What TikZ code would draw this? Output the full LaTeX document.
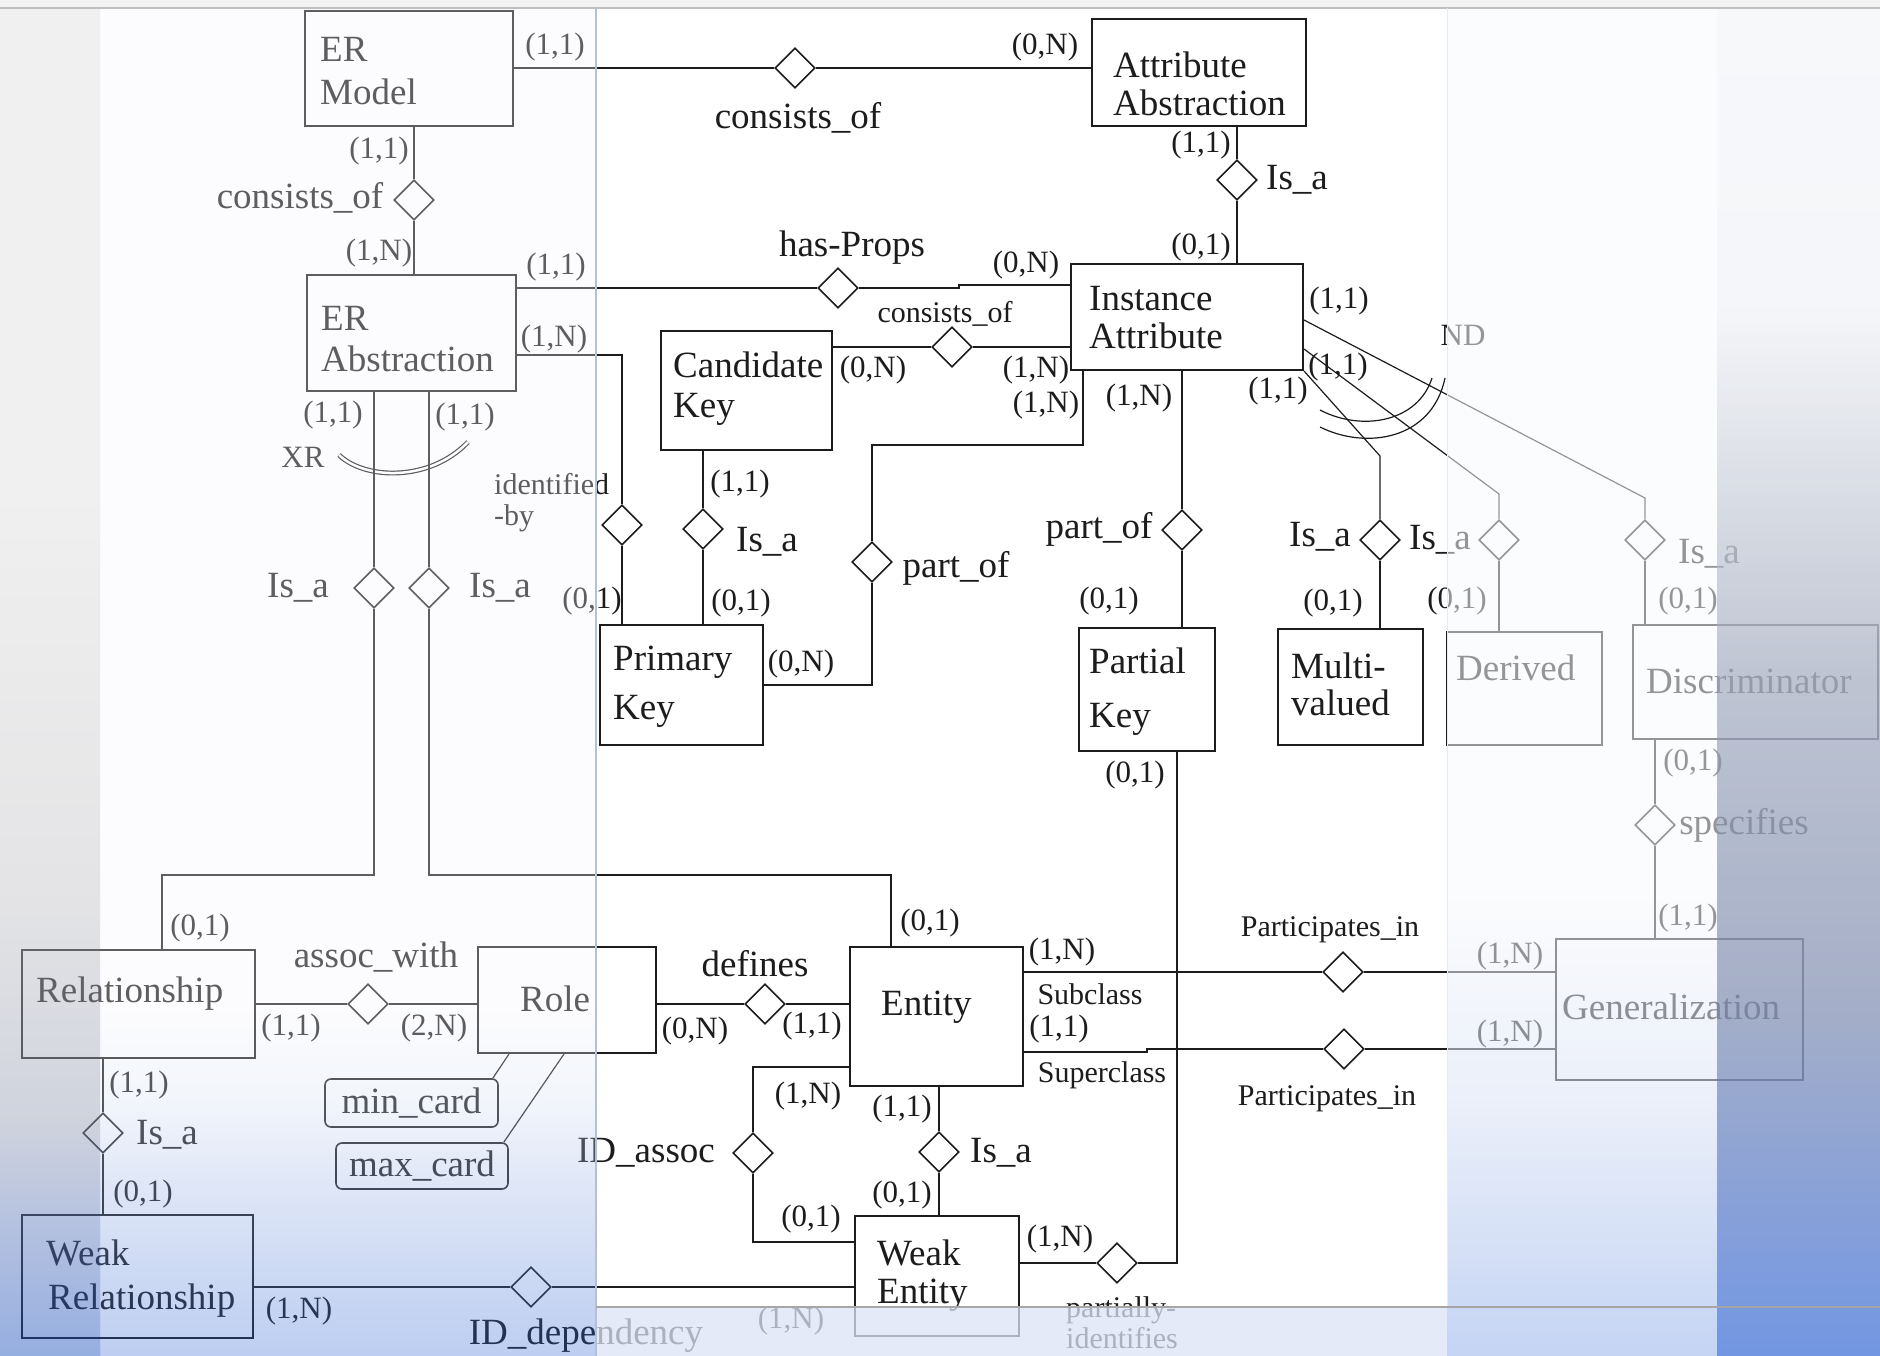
\documentclass[tikz,border=0pt]{standalone}
\usepackage{fontspec}
\setmainfont{Liberation Serif}
\usetikzlibrary{shapes.geometric}
\definecolor{ink}{HTML}{1C1C1C}
\definecolor{band}{RGB}{219,227,246}
\definecolor{rule}{HTML}{B4C0D8}
% slide background tints (0bp..25bp = bottom edge, 75bp..100bp = top edge)
\pgfdeclareverticalshading{panelsh}{100bp}{rgb(0bp)=(0.149,0.373,0.831); rgb(25bp)=(0.149,0.373,0.831); rgb(27.1bp)=(0.282,0.467,0.843); rgb(30.8bp)=(0.55,0.66,0.894); rgb(34.5bp)=(0.843,0.882,0.957); rgb(38.2bp)=(0.973,0.973,0.992); rgb(100bp)=(0.973,0.973,0.992)}
\pgfdeclareverticalshading{stripsh}{100bp}{rgb(0bp)=(0.086,0.302,0.737); rgb(25bp)=(0.086,0.302,0.737); rgb(28.9bp)=(0.302,0.431,0.737); rgb(33.8bp)=(0.588,0.624,0.710); rgb(41.9bp)=(0.765,0.765,0.784); rgb(56.8bp)=(0.871,0.871,0.871); rgb(100bp)=(0.871,0.871,0.871)}
\pgfdeclareverticalshading{midsh}{100bp}{rgb(0bp)=(0.588,0.698,0.922); rgb(25bp)=(0.588,0.698,0.922); rgb(27bp)=(0.643,0.737,0.929); rgb(34.5bp)=(0.859,0.894,0.965); rgb(42bp)=(0.973,0.980,0.992); rgb(100bp)=(0.973,0.980,0.992)}
\pgfdeclareverticalshading{farsh}{100bp}{rgb(0bp)=(0.333,0.502,0.863); rgb(25bp)=(0.333,0.502,0.863); rgb(27bp)=(0.365,0.518,0.851); rgb(38bp)=(0.569,0.616,0.737); rgb(50bp)=(0.690,0.718,0.784); rgb(64bp)=(0.955,0.960,0.972); rgb(100bp)=(0.985,0.988,0.992)}
\begin{document}
\begin{tikzpicture}[x=1pt,y=-1pt,
  entbox/.style={draw=ink, line width=2, inner sep=0},
  cardbox/.style={draw=ink, line width=1.6, inner sep=0, rounded corners=6},
  relship/.style={diamond, draw=ink, line width=1.6, fill=white, minimum width=40, minimum height=40, inner sep=0, aspect=1},
  conn/.style={draw=ink, line width=1.8},
  fine/.style={draw=ink, line width=1.2},
  boxtext/.style={anchor=west, align=left, inner sep=0, text=ink},
  lblbig/.style={font=\fontsize{37}{40}\selectfont, text=ink, inner sep=0},
  lblcard/.style={font=\fontsize{31}{34}\selectfont, text=ink, inner sep=0},
  lblsmall/.style={font=\fontsize{30}{31}\selectfont, text=ink, inner sep=0},
]
\useasboundingbox (0,0) rectangle (1880,1356);
\fill[white] (0,0) rectangle (1880,1356);

% ---------- entity boxes ----------
\node[entbox, minimum width=208, minimum height=115] (em) at (409,68.5) {};
\node[boxtext, font=\fontsize{37}{43}\selectfont] (em-t) at (320,71) {ER\\Model};
\node[entbox, minimum width=214, minimum height=107] (aa) at (1199,72.5) {};
\node[boxtext, font=\fontsize{37}{38}\selectfont] (aa-t) at (1113,84) {Attribute\\Abstraction};
\node[entbox, minimum width=209, minimum height=116] (erabs) at (411.5,333) {};
\node[boxtext, font=\fontsize{37}{41}\selectfont] (erabs-t) at (321,339) {ER\\Abstraction};
\node[entbox, minimum width=232, minimum height=106] (ia) at (1187,317) {};
\node[boxtext, font=\fontsize{37}{38}\selectfont] (ia-t) at (1089,318) {Instance\\Attribute};
\node[entbox, minimum width=171, minimum height=119] (ck) at (746.5,390.5) {};
\node[boxtext, font=\fontsize{37}{40}\selectfont] (ck-t) at (673,389) {Candidate\\Key};
\node[entbox, minimum width=163, minimum height=120] (pk) at (681.5,685) {};
\node[boxtext, font=\fontsize{37}{49}\selectfont] (pk-t) at (613,687) {Primary\\Key};
\node[entbox, minimum width=136, minimum height=123] (ptk) at (1147,689.5) {};
\node[boxtext, font=\fontsize{37}{54}\selectfont] (ptk-t) at (1089,692) {Partial\\Key};
\node[entbox, minimum width=145, minimum height=116] (mv) at (1350.5,687) {};
\node[boxtext, font=\fontsize{37}{37}\selectfont] (mv-t) at (1291,684) {Multi-\\valued};
\node[entbox, minimum width=155, minimum height=113] (der) at (1524.5,688.5) {};
\node[boxtext, font=\fontsize{37}{40}\selectfont] (der-t) at (1456,668) {Derived};
\node[entbox, minimum width=245, minimum height=114] (disc) at (1755.5,682) {};
\node[boxtext, font=\fontsize{37}{40}\selectfont] (disc-t) at (1646,681) {Discriminator};
\node[entbox, minimum width=233, minimum height=108] (rel) at (138.5,1004) {};
\node[boxtext, font=\fontsize{37}{40}\selectfont] (rel-t) at (36,994) {Relationship};
\node[entbox, minimum width=178, minimum height=106] (role) at (567,1000) {};
\node[boxtext, font=\fontsize{37}{40}\selectfont] (role-t) at (520,999) {Role};
\node[entbox, minimum width=173, minimum height=139] (ent) at (936.5,1016.5) {};
\node[boxtext, font=\fontsize{37}{40}\selectfont] (ent-t) at (881,1007) {Entity};
\node[entbox, minimum width=247, minimum height=141] (gen) at (1679.5,1009.5) {};
\node[boxtext, font=\fontsize{37}{40}\selectfont] (gen-t) at (1562,1007) {Generalization};
\node[entbox, minimum width=231, minimum height=123] (wrel) at (137.5,1276.5) {};
\node[boxtext, font=\fontsize{37}{44}\selectfont] (wrel-t) at (46,1279) {Weak\\\hspace*{2pt}Relationship};
\node[entbox, minimum width=164, minimum height=120] (went) at (937,1276) {};
\node[boxtext, font=\fontsize{37}{38}\selectfont] (went-t) at (877,1276) {Weak\\Entity};
\node[cardbox, minimum width=173, minimum height=48, lblbig] (minc) at (411.5,1103) {min\_card};
\node[cardbox, minimum width=172, minimum height=46, lblbig] (maxc) at (422,1166) {max\_card};

% ---------- relationship diamonds ----------
\node[relship] (d-co1) at (795,68) {};
\node[relship] (d-co2) at (414,200) {};
\node[relship] (d-isa1) at (1237,180) {};
\node[relship] (d-hp) at (838,288) {};
\node[relship] (d-co3) at (952,347) {};
\node[relship] (d-isaL) at (374,588) {};
\node[relship] (d-isaR) at (429,588) {};
\node[relship] (d-idb) at (622,525) {};
\node[relship] (d-isa2) at (703,529) {};
\node[relship] (d-po1) at (872,562) {};
\node[relship] (d-po2) at (1182,530) {};
\node[relship] (d-isam) at (1380,540) {};
\node[relship] (d-isad) at (1499,540) {};
\node[relship] (d-isac) at (1645,540) {};
\node[relship] (d-spec) at (1655,825) {};
\node[relship] (d-aw) at (368,1004) {};
\node[relship] (d-df) at (765,1004) {};
\node[relship] (d-pt1) at (1343,972) {};
\node[relship] (d-pt2) at (1344,1049) {};
\node[relship] (d-isa3) at (103,1133) {};
\node[relship] (d-ida) at (753,1153) {};
\node[relship] (d-isa4) at (939,1152) {};
\node[relship] (d-idd) at (531,1287) {};
\node[relship] (d-pid) at (1117,1263) {};

% ---------- bend points ----------
\coordinate (hpj) at (959,285);
\coordinate (c-idb) at (622,355);
\coordinate (c-po1) at (872,445);
\coordinate (c-po2) at (1083,445);
\coordinate (c-pid) at (1177,1263);
\coordinate (g1) at (1645,498);
\coordinate (g2) at (1499,494);
\coordinate (g3) at (1380,456);
\coordinate (c-rel) at (162,875);
\coordinate (c-ent) at (891,875);
\coordinate (c-ida1) at (753,1067);
\coordinate (c-ida2) at (753,1242);
\coordinate (c-sup) at (1147,1052);

% ---------- connectors ----------
\draw[conn] (d-co1 -| em.east) -- (d-co1);
\draw[conn] (d-co1) -- (d-co1 -| aa.west);
\draw[conn] (d-co2 |- em.south) -- (d-co2);
\draw[conn] (d-co2) -- (d-co2 |- erabs.north);
\draw[conn] (d-isa1 |- aa.south) -- (d-isa1);
\draw[conn] (d-isa1) -- (d-isa1 |- ia.north);
\draw[conn] (d-hp -| erabs.east) -- (d-hp);
\draw[conn] (d-hp) -- (d-hp -| hpj) -- (hpj) -- (hpj -| ia.west);
\draw[conn] (d-co3 -| ck.east) -- (d-co3);
\draw[conn] (d-co3) -- (d-co3 -| ia.west);
\draw[conn] (c-idb -| erabs.east) -- (c-idb) -- (d-idb);
\draw[conn] (d-idb) -- (d-idb |- pk.north);
\draw[conn] (d-isa2 |- ck.south) -- (d-isa2);
\draw[conn] (d-isa2) -- (d-isa2 |- pk.north);
\draw[conn] (pk.east) -- (pk.east -| d-po1) -- (d-po1);
\draw[conn] (d-po1) -- (c-po1) -- (c-po2) -- (c-po2 |- ia.south);
\draw[conn] (d-po2 |- ia.south) -- (d-po2);
\draw[conn] (d-po2) -- (d-po2 |- ptk.north);
\draw[conn] (c-pid |- ptk.south) -- (c-pid) -- (d-pid);
\draw[conn] (d-pid) -- (d-pid -| went.east);

% attribute kinds hanging off Instance Attribute
\draw[fine] ([yshift=-3]ia.east) -- (g1) -- (d-isac);
\draw[fine] (d-isac) -- (d-isac |- disc.north);
\draw[fine] ([yshift=-32]ia.east) -- (g2) -- (d-isad);
\draw[fine] (d-isad) -- (d-isad |- der.north);
\draw[fine] (ia.south east) -- (g3) -- (d-isam);
\draw[conn] (d-isam) -- (d-isam |- mv.north);
% ND constraint arcs
\draw[fine] (1320,410) .. controls (1362,432) and (1418,422) .. (1432,378);
\draw[fine] (1320,427) .. controls (1366,450) and (1432,440) .. (1445,378);
% XR constraint arc
\draw[ink, line width=1.2, double=white, double distance=2.5] (339,455) .. controls (365,480) and (430,482) .. (468,442);

\draw[fine] (d-isaL |- erabs.south) -- (d-isaL);
\draw[fine] (d-isaL) |- (c-rel) -- (c-rel |- rel.north);
\draw[fine] (d-isaR |- erabs.south) -- (d-isaR);
\draw[fine] (d-isaR) |- (c-ent) -- (c-ent |- ent.north);
\draw[conn] (d-aw -| rel.east) -- (d-aw);
\draw[conn] (d-aw) -- (d-aw -| role.west);
\draw[conn] (d-df -| role.east) -- (d-df);
\draw[conn] (d-df) -- (d-df -| ent.west);
\draw[fine] ([xshift=-58]role.south) -- ([xshift=-6]minc.north east);
\draw[fine] ([xshift=-3]role.south) -- ([xshift=-5]maxc.north east);
\draw[conn] (d-isa3 |- rel.south) -- (d-isa3);
\draw[conn] (d-isa3) -- (d-isa3 |- wrel.north);
\draw[conn] (d-idd -| wrel.east) -- (d-idd);
\draw[conn] (d-idd) -- (d-idd -| went.west);
\draw[conn] (c-ida1 -| ent.west) -- (c-ida1) -- (d-ida);
\draw[conn] (d-ida) -- (c-ida2) -- (c-ida2 -| went.west);
\draw[conn] (d-isa4 |- ent.south) -- (d-isa4);
\draw[conn] (d-isa4) -- (d-isa4 |- went.north);
\draw[conn] (d-pt1 -| ent.east) -- (d-pt1);
\draw[conn] (d-pt1) -- (d-pt1 -| gen.west);
\draw[conn] (c-sup -| ent.east) -- (c-sup) -- (c-sup |- d-pt2) -- (d-pt2);
\draw[conn] (d-pt2) -- (d-pt2 -| gen.west);
\draw[conn] (d-spec |- disc.south) -- (d-spec);
\draw[conn] (d-spec) -- (d-spec |- gen.north);

% ---------- labels ----------
\node[lblcard] (k1) at (555,47) {(1,1)};
\node[lblcard] (k2) at (1045,47) {(0,N)};
\node[lblbig] (t-co1) at (798,118) {consists\_of};
\node[lblcard] (k3) at (379,151) {(1,1)};
\node[lblbig] (t-co2) at (300,198) {consists\_of};
\node[lblcard] (k4) at (379,253) {(1,N)};
\node[lblcard] (k5) at (1201,145) {(1,1)};
\node[lblbig] (t-isa1) at (1297,180) {Is\_a};
\node[lblcard] (k6) at (1201,247) {(0,1)};
\node[lblbig] (t-hp) at (852,248) {has-Props};
\node[lblcard] (k7) at (1026,265) {(0,N)};
\node[lblcard] (k8) at (556,267) {(1,1)};
\node[lblcard] (k9) at (554,339) {(1,N)};
\node[lblsmall] (t-co3) at (945,314) {consists\_of};
\node[lblcard] (k10) at (873,370) {(0,N)};
\node[lblcard] (k11) at (1036,370) {(1,N)};
\node[lblcard] (k12) at (1046,405) {(1,N)};
\node[lblcard] (k13) at (1139,398) {(1,N)};
\node[lblcard] (k14) at (1339,301) {(1,1)};
\node[lblcard] (k15) at (1338,367) {(1,1)};
\node[lblcard] (k16) at (1278,391) {(1,1)};
\node[lblcard] (t-nd) at (1463,335) {ND};
\node[lblcard] (k17) at (333,415) {(1,1)};
\node[lblcard] (k18) at (465,417) {(1,1)};
\node[lblcard] (t-xr) at (303,457) {XR};
\node[lblsmall, align=left, anchor=west] (t-idb) at (494,503) {identified\\-by};
\node[lblcard] (k19) at (740,484) {(1,1)};
\node[lblbig] (t-isa2) at (767,542) {Is\_a};
\node[lblbig] (t-po1) at (956,568) {part\_of};
\node[lblcard] (k20) at (592,601) {(0,1)};
\node[lblcard] (k21) at (741,603) {(0,1)};
\node[lblcard] (k22) at (801,664) {(0,N)};
\node[lblbig] (t-isaL) at (298,588) {Is\_a};
\node[lblbig] (t-isaR) at (500,588) {Is\_a};
\node[lblbig] (t-po2) at (1099,529) {part\_of};
\node[lblcard] (k23) at (1109,601) {(0,1)};
\node[lblbig] (t-isam) at (1320,537) {Is\_a};
\node[lblbig] (t-isad) at (1440,540) {Is\_a};
\node[lblbig] (t-isac) at (1709,554) {Is\_a};
\node[lblcard] (k24) at (1333,603) {(0,1)};
\node[lblcard] (k25) at (1457,601) {(0,1)};
\node[lblcard] (k26) at (1688,601) {(0,1)};
\node[lblcard] (k27) at (1135,775) {(0,1)};
\node[lblcard] (k28) at (1693,763) {(0,1)};
\node[lblbig] (t-spec) at (1744,825) {specifies};
\node[lblcard] (k29) at (1688,918) {(1,1)};
\node[lblcard] (k30) at (200,928) {(0,1)};
\node[lblbig] (t-aw) at (376,957) {assoc\_with};
\node[lblcard] (k31) at (291,1028) {(1,1)};
\node[lblcard] (k32) at (434,1028) {(2,N)};
\node[lblbig] (t-df) at (755,964) {defines};
\node[lblcard] (k33) at (695,1031) {(0,N)};
\node[lblcard] (k34) at (812,1026) {(1,1)};
\node[lblcard] (k35) at (930,923) {(0,1)};
\node[lblcard] (k36) at (1062,952) {(1,N)};
\node[lblsmall] (t-sub) at (1090,994) {Subclass};
\node[lblcard] (k37) at (1059,1029) {(1,1)};
\node[lblsmall] (t-sup) at (1102,1075) {Superclass};
\node[lblsmall] (t-pt1) at (1330,930) {Participates\_in};
\node[lblsmall] (t-pt2) at (1327,1099) {Participates\_in};
\node[lblcard] (k38) at (1510,956) {(1,N)};
\node[lblcard] (k39) at (1510,1034) {(1,N)};
\node[lblcard] (k40) at (139,1085) {(1,1)};
\node[lblbig] (t-isa3) at (167,1135) {Is\_a};
\node[lblcard] (k41) at (143,1194) {(0,1)};
\node[lblcard] (k42) at (808,1096) {(1,N)};
\node[lblcard] (k43) at (902,1109) {(1,1)};
\node[lblbig] (t-ida) at (646,1153) {ID\_assoc};
\node[lblbig] (t-isa4) at (1001,1153) {Is\_a};
\node[lblcard] (k44) at (811,1219) {(0,1)};
\node[lblcard] (k45) at (902,1195) {(0,1)};
\node[lblcard] (k46) at (1060,1239) {(1,N)};
\node[lblsmall, align=left] (t-pid) at (1122,1323) {partially-\\identifies};
\node[lblcard] (k47) at (299,1311) {(1,N)};
\node[lblbig] (t-idd) at (586,1336) {ID\_dependency};
\node[lblcard] (k48) at (791,1321) {(1,N)};

% ---------- slide background panels laid over the drawing ----------
\shade[shading=panelsh, opacity=0.3] (100,8) rectangle (596,1356);
\shade[shading=stripsh, opacity=0.45] (0,8) rectangle (100,1356);
\shade[shading=midsh, opacity=0.55] (1447,8) rectangle (1717,1356);
\shade[shading=farsh, opacity=0.82] (1717,8) rectangle (1880,1356);
\fill[band, opacity=0.75] (596,1307) rectangle (1447,1356);
\fill[black!5] (0,0) rectangle (1880,8);
\draw[black!25, line width=1.5] (0,8) -- (1880,8);
\draw[rule, line width=1.2] (596,8) -- (596,1356);
\draw[black!8, line width=1] (1447,8) -- (1447,1307);
\draw[black!35, line width=1.2] (596,1307) -- (1880,1307);
\end{tikzpicture}
\end{document}
